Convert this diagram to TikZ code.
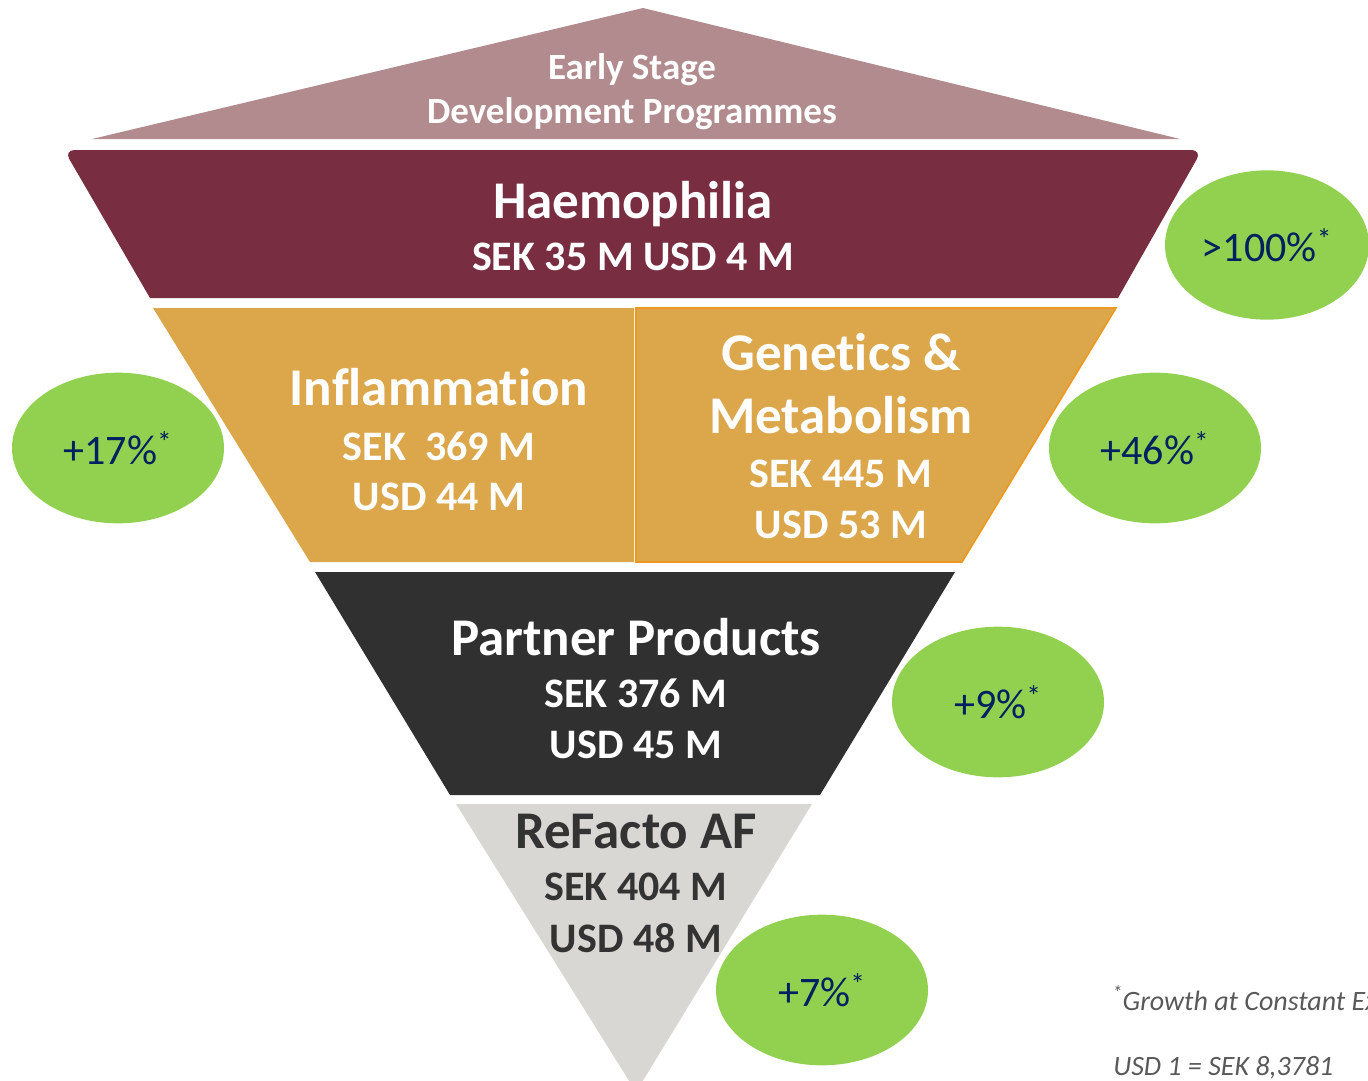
\documentclass[tikz,border=0pt]{standalone}
\usepackage{fontspec}
\setmainfont{Carlito}[Ligatures=NoCommon]
\usetikzlibrary{shapes.geometric}

\definecolor{earlyc}{RGB}{177,139,142}
\definecolor{haemc}{RGB}{120,45,64}
\definecolor{goldc}{RGB}{220,166,75}
\definecolor{goldedge}{RGB}{237,152,32}
\definecolor{partc}{RGB}{48,48,48}
\definecolor{refc}{RGB}{217,215,211}
\definecolor{growc}{RGB}{146,208,80}
\definecolor{navyc}{RGB}{0,32,96}
\definecolor{notec}{RGB}{89,89,89}
\definecolor{darktext}{RGB}{51,51,51}

\tikzset{
  line/.style={anchor=base, inner sep=0pt, text=white},
  title/.style={line, font=\bfseries\fontsize{39.75}{44}\selectfont},
  figure/.style={line, font=\bfseries\fontsize{31.5}{36}\selectfont},
  early/.style={line, font=\bfseries\fontsize{27.75}{32}\selectfont},
  growth/.style={ellipse, fill=growc, inner sep=0pt, minimum width=159pt,
    minimum height=113pt, text=navyc, font=\fontsize{31.5}{36}\selectfont},
  note/.style={anchor=base west, inner sep=0pt, text=notec,
    font=\itshape\fontsize{21}{24}\selectfont},
}

\begin{document}
\begin{tikzpicture}[x=0.75pt, y=-0.75pt]
\useasboundingbox (0,0) rectangle (1368,1081);
\clip (0,0) rectangle (1368,1081);

% funnel bands
\fill[earlyc] (643,8) -- (1180,139) -- (92,139) -- cycle;
\fill[haemc] (150,298) [rounded corners=8pt] -- (64,150) -- (1202,150)
  [sharp corners] -- (1118,298) -- cycle;
\fill[goldc] (153,308) -- (634,308) -- (634,562) -- (310,562) -- cycle;
\filldraw[fill=goldc, draw=goldedge, line width=1.2pt]
  (636,308) -- (1116,308) -- (962,562) -- (636,562) -- cycle;
\fill[partc] (315,572) -- (955,572) -- (820,795) -- (450,795) -- cycle;
\fill[refc] (456,804) -- (812,804) [rounded corners=10pt] -- (636,1092)
  [sharp corners] -- cycle;

% band labels
\node[early] (es1) at (632,80) {Early Stage};
\node[early] (es2) at (632,123) {Development Programmes};

\node[title] (hm1) at (633,218) {Haemophilia};
\node[figure] (hm2) at (633,270) {SEK 35 M USD 4 M};

\node[title] (in1) at (439,405) {Inflammation};
\node[figure] (in2) at (439,460) {SEK\ \ 369 M};
\node[figure] (in3) at (439,510) {USD 44 M};

\node[title] (gm1) at (841,370) {Genetics \&};
\node[title] (gm2) at (841,433) {Metabolism};
\node[figure] (gm3) at (841,487) {SEK 445 M};
\node[figure] (gm4) at (841,538) {USD 53 M};

\node[title] (pp1) at (636,655) {Partner Products};
\node[figure] (pp2) at (636,707) {SEK 376 M};
\node[figure] (pp3) at (636,758) {USD 45 M};

\node[title, text=darktext] (rf1) at (636,848) {ReFacto AF};
\node[figure, text=darktext] (rf2) at (636,900) {SEK 404 M};
\node[figure, text=darktext] (rf3) at (636,952) {USD 48 M};

% growth bubbles
\node[growth, minimum width=153pt, minimum height=112pt] (g1) at (1267,245) {>100\%\textsuperscript{*}};
\node[growth] (g2) at (118,448) {+17\%\textsuperscript{*}};
\node[growth] (g3) at (1155,448) {+46\%\textsuperscript{*}};
\node[growth] (g4) at (998,702) {+9\%\textsuperscript{*}};
\node[growth] (g5) at (822,990) {+7\%\textsuperscript{*}};

% footnote
\node[note] (n1) at (1112,1010) {\textsuperscript{*}Growth at Constant Exchange Rates};
\node[note] (n2) at (1113,1075) {USD 1 = SEK 8,3781};
\end{tikzpicture}
\end{document}
